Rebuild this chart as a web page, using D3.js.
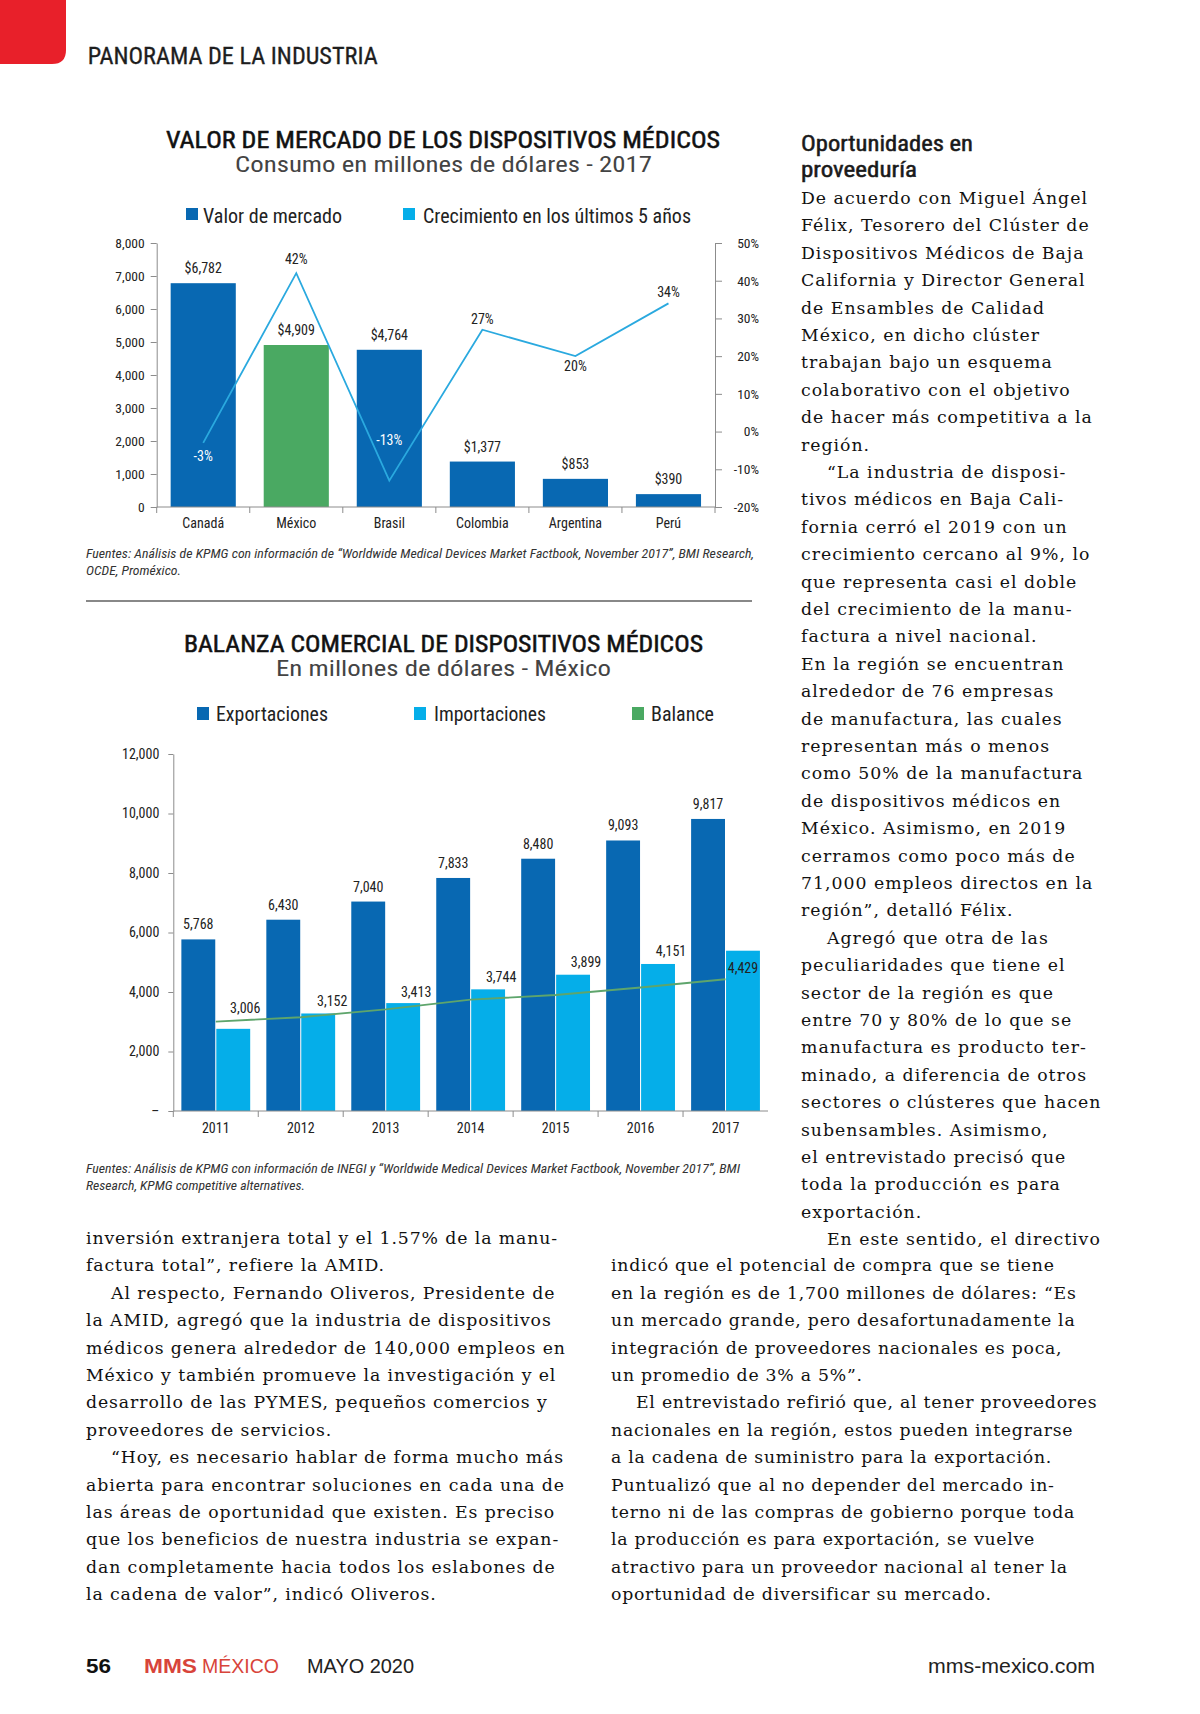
<!DOCTYPE html>
<html><head><meta charset="utf-8">
<script src="https://cdn.jsdelivr.net/npm/d3@7"></script>
<style>
html,body{margin:0;padding:0;background:#fff;}
svg text{font-family:"Liberation Sans Narrow","Roboto Condensed","Arial Narrow","Liberation Sans",sans-serif;}
svg text.serif{font-family:"DejaVu Serif","Liberation Serif",serif;}
svg text.plain{font-family:"Liberation Sans",Arial,sans-serif;}
</style></head><body>
<svg id="page" width="1200" height="1714"></svg>
<script>
// ---------------- DATA ----------------
const countries = ["Canadá","México","Brasil","Colombia","Argentina","Perú"];
const marketValue = [6782,4909,4764,1377,853,390];
const growth5y = [-3,42,-13,27,20,34];
const leftTicks1 = [0,1000,2000,3000,4000,5000,6000,7000,8000];
const rightTicks1 = [-20,-10,0,10,20,30,40,50];

const years = ["2011","2012","2013","2014","2015","2016","2017"];
const exportsVal = [5768,6430,7040,7833,8480,9093,9817];
const importsVal = [2762,3278,3627,4089,4581,4942,5388];
const balanceVal = [3006,3152,3413,3744,3899,4151,4429];
const ticks2 = [0,2000,4000,6000,8000,10000,12000];

const legend1 = ["Valor de mercado","Crecimiento en los últimos 5 años"];
const legend2 = ["Exportaciones","Importaciones","Balance"];

const colTopRight = [
"De acuerdo con Miguel Ángel","Félix, Tesorero del Clúster de","Dispositivos Médicos de Baja",
"California y Director General","de Ensambles de Calidad","México, en dicho clúster",
"trabajan bajo un esquema","colaborativo con el objetivo","de hacer más competitiva a la","región.",
">“La industria de disposi-","tivos médicos en Baja Cali-","fornia cerró el 2019 con un",
"crecimiento cercano al 9%, lo","que representa casi el doble","del crecimiento de la manu-",
"factura a nivel nacional.","En la región se encuentran","alrededor de 76 empresas",
"de manufactura, las cuales","representan más o menos","como 50% de la manufactura",
"de dispositivos médicos en","México. Asimismo, en 2019","cerramos como poco más de",
"71,000 empleos directos en la","región”, detalló Félix.",">Agregó que otra de las",
"peculiaridades que tiene el","sector de la región es que","entre 70 y 80% de lo que se",
"manufactura es producto ter-","minado, a diferencia de otros","sectores o clústeres que hacen",
"subensambles. Asimismo,","el entrevistado precisó que","toda la producción es para",
"exportación.",">En este sentido, el directivo"];
const colBottomLeft = [
"inversión extranjera total y el 1.57% de la manu-","factura total”, refiere la AMID.",
">Al respecto, Fernando Oliveros, Presidente de","la AMID, agregó que la industria de dispositivos",
"médicos genera alrededor de 140,000 empleos en","México y también promueve la investigación y el",
"desarrollo de las PYMES, pequeños comercios y","proveedores de servicios.",
">“Hoy, es necesario hablar de forma mucho más","abierta para encontrar soluciones en cada una de",
"las áreas de oportunidad que existen. Es preciso","que los beneficios de nuestra industria se expan-",
"dan completamente hacia todos los eslabones de","la cadena de valor”, indicó Oliveros."];
const colBottomRight = [
"indicó que el potencial de compra que se tiene","en la región es de 1,700 millones de dólares: “Es",
"un mercado grande, pero desafortunadamente la","integración de proveedores nacionales es poca,",
"un promedio de 3% a 5%”.",">El entrevistado refirió que, al tener proveedores",
"nacionales en la región, estos pueden integrarse","a la cadena de suministro para la exportación.",
"Puntualizó que al no depender del mercado in-","terno ni de las compras de gobierno porque toda",
"la producción es para exportación, se vuelve","atractivo para un proveedor nacional al tener la",
"oportunidad de diversificar su mercado."];

// ---------------- STYLE ----------------
const BLUE="#0868b2", LBLUE="#05aee9", GREEN="#4aa962", LINE1="#2aa9df", LINE2="#5ea56c", AX="#8c8c8c", TXT="#222";

const svg = d3.select("#page");

function label(g,x,y,s,o={}){
  const t=g.append("text").attr("x",x).attr("y",y).text(s)
    .attr("font-size",o.size||13).attr("fill",o.fill||TXT)
    .attr("text-anchor",o.anchor||"start");
  if(o.len){t.attr("textLength",o.len).attr("lengthAdjust","spacingAndGlyphs");}
  if(o.italic) t.attr("font-style","italic");
  if(o.weight) t.attr("font-weight",o.weight);
  if(o.stroke){t.attr("stroke",o.fill||TXT).attr("stroke-width",o.stroke);}
  if(o.cls) t.attr("class",o.cls);
  if(o.ls!==undefined) t.attr("letter-spacing",o.ls);
  return t;
}

// ---------------- HEADER ----------------
svg.append("path").attr("d","M0,0 H66 V50 Q66,64 52,64 H0 Z").attr("fill","#e8202a");
label(svg,87.7,64,"PANORAMA DE LA INDUSTRIA",{size:24,len:290,fill:"#1e1e1e",stroke:0.3});

// ---------------- CHART 1 ----------------
const g1 = svg.append("g");
label(g1,166,148,"VALOR DE MERCADO DE LOS DISPOSITIVOS MÉDICOS",{size:23.5,len:554,fill:"#111",stroke:0.5});
label(g1,235,172,"Consumo en millones de dólares - 2017",{size:22,len:417,fill:"#444"});
g1.append("rect").attr("x",186).attr("y",208).attr("width",12).attr("height",12).attr("fill",BLUE);
label(g1,203,223,legend1[0],{size:20,len:139});
g1.append("rect").attr("x",403).attr("y",208).attr("width",12).attr("height",12).attr("fill",LBLUE);
label(g1,423,223,legend1[1],{size:20,len:268});

const x1 = d3.scaleBand().domain(countries).range([156.7,715]).paddingInner(0.3).paddingOuter(0.15);
const y1 = d3.scaleLinear().domain([0,8000]).range([507,243]);
const y1r = d3.scaleLinear().domain([-20,50]).range([507,243]);

g1.selectAll("rect.bar").data(countries).enter().append("rect").attr("class","bar")
  .attr("x",d=>x1(d)).attr("width",x1.bandwidth())
  .attr("y",(d,i)=>y1(marketValue[i])).attr("height",(d,i)=>y1(0)-y1(marketValue[i]))
  .attr("fill",(d,i)=>i===1?GREEN:BLUE);

const ax1 = g1.append("g").attr("transform","translate(156.7,0)")
  .call(d3.axisLeft(y1).tickValues(leftTicks1).tickFormat(d3.format(",")).tickSize(6).tickPadding(6).tickSizeOuter(0));
const ax1r = g1.append("g").attr("transform","translate(715,0)")
  .call(d3.axisRight(y1r).tickValues(rightTicks1).tickFormat(d=>d+"%").tickSize(7).tickSizeOuter(0));
ax1r.selectAll("text").attr("x",44).attr("text-anchor","end");
[ax1,ax1r].forEach(a=>{a.select(".domain").attr("stroke",AX);a.selectAll(".tick line").attr("stroke",AX);
  a.selectAll("text").attr("font-size",13.5).attr("fill",TXT).attr("font-family",null);});
// x axis
g1.append("line").attr("x1",156.7).attr("x2",715).attr("y1",507).attr("y2",507).attr("stroke",AX);
d3.range(countries.length+1).forEach(i=>{
  const xx = x1.range()[0]+i*x1.step();
  g1.append("line").attr("x1",xx).attr("x2",xx).attr("y1",507).attr("y2",513).attr("stroke",AX);
});
g1.selectAll("text.xl").data(countries).enter().append("text").attr("class","xl")
  .attr("x",d=>x1(d)+x1.bandwidth()/2).attr("y",528).attr("text-anchor","middle")
  .attr("font-size",14).attr("fill",TXT).text(d=>d);
// value labels
g1.selectAll("text.vl").data(countries).enter().append("text").attr("class","vl")
  .attr("x",d=>x1(d)+x1.bandwidth()/2).attr("y",(d,i)=>y1(marketValue[i])-10)
  .attr("text-anchor","middle").attr("font-size",14).attr("fill",TXT)
  .text((d,i)=>"$"+d3.format(",")(marketValue[i]));
// growth line
const cx1 = d=>x1(d)+x1.bandwidth()/2;
g1.append("path").attr("fill","none").attr("stroke",LINE1).attr("stroke-width",1.8)
  .attr("d",d3.line().x((d,i)=>cx1(countries[i])).y(d=>y1r(d))(growth5y));
const gLabDy=[18,-9,-36,-6,15,-6];
g1.selectAll("text.gl").data(countries).enter().append("text").attr("class","gl")
  .attr("x",d=>cx1(d)).attr("y",(d,i)=>y1r(growth5y[i])+gLabDy[i])
  .attr("text-anchor","middle").attr("font-size",14)
  .attr("fill",(d,i)=>growth5y[i]<0?"#fff":TXT).text((d,i)=>growth5y[i]+"%");

label(svg,86,558,"Fuentes: Análisis de KPMG con información de “Worldwide Medical Devices Market Factbook, November 2017”, BMI Research,",{size:12.5,len:668,italic:true,fill:"#333"});
label(svg,86,575,"OCDE, Proméxico.",{size:12.5,len:95,italic:true,fill:"#333"});
svg.append("line").attr("x1",86).attr("x2",752).attr("y1",601).attr("y2",601).attr("stroke","#888").attr("stroke-width",2);

// ---------------- CHART 2 ----------------
const g2 = svg.append("g");
label(g2,184,652,"BALANZA COMERCIAL DE DISPOSITIVOS MÉDICOS",{size:23.5,len:519,fill:"#111",stroke:0.5});
label(g2,276,676,"En millones de dólares - México",{size:22,len:335,fill:"#444"});
const leg2x=[[197,216,112],[414,434,112],[632,651,63]], leg2c=[BLUE,LBLUE,GREEN];
legend2.forEach((s,i)=>{
  g2.append("rect").attr("x",leg2x[i][0]).attr("y",707).attr("width",12).attr("height",13).attr("fill",leg2c[i]);
  label(g2,leg2x[i][1],721,s,{size:20,len:leg2x[i][2]});
});
const x2 = d3.scaleBand().domain(years).range([173.3,768]).paddingInner(0.19).paddingOuter(0.095);
const xs2 = d3.scaleBand().domain(["exp","imp"]).range([0,x2.bandwidth()]).paddingInner(0.03);
const y2 = d3.scaleLinear().domain([0,12000]).range([1111,754]);

const grp = g2.selectAll("g.yr").data(years).enter().append("g").attr("class","yr")
  .attr("transform",d=>`translate(${x2(d)},0)`);
grp.append("rect").attr("x",xs2("exp")).attr("width",xs2.bandwidth())
  .attr("y",(d,i)=>y2(exportsVal[i])).attr("height",(d,i)=>y2(0)-y2(exportsVal[i])).attr("fill",BLUE);
grp.append("rect").attr("x",xs2("imp")).attr("width",xs2.bandwidth())
  .attr("y",(d,i)=>y2(importsVal[i])).attr("height",(d,i)=>y2(0)-y2(importsVal[i])).attr("fill",LBLUE);
grp.append("text").attr("x",xs2("exp")+xs2.bandwidth()/2).attr("y",(d,i)=>y2(exportsVal[i])-10)
  .attr("text-anchor","middle").attr("font-size",14).attr("fill",TXT).text((d,i)=>d3.format(",")(exportsVal[i]));
const bDx=[12,14,13,13,13,13,0], bDy=[-16,-7,-6,-7,-8,-8,22];
grp.append("text").attr("x",(d,i)=>xs2("imp")+xs2.bandwidth()/2+bDx[i]).attr("y",(d,i)=>y2(importsVal[i])+bDy[i])
  .attr("text-anchor","middle").attr("font-size",14).attr("fill",TXT).text((d,i)=>d3.format(",")(balanceVal[i]));

g2.append("path").attr("fill","none").attr("stroke",LINE2).attr("stroke-width",1.8)
  .attr("d",d3.line().x((d,i)=>x2(years[i])+x2.bandwidth()/2).y(d=>y2(d))(balanceVal));

const ax2 = g2.append("g").attr("transform","translate(173.3,0)")
  .call(d3.axisLeft(y2).tickValues(ticks2).tickFormat(d=>d===0?"–":d3.format(",")(d)).tickSize(5).tickPadding(9).tickSizeOuter(0));
ax2.select(".domain").attr("stroke",AX);
ax2.selectAll(".tick line").attr("stroke",AX);
ax2.selectAll("text").attr("font-size",14).attr("fill",TXT).attr("font-family",null);
g2.append("line").attr("x1",173.3).attr("x2",768).attr("y1",1111).attr("y2",1111).attr("stroke",AX);
d3.range(years.length).forEach(i=>{
  const xx = x2.range()[0]+i*x2.step();
  g2.append("line").attr("x1",xx).attr("x2",xx).attr("y1",1111).attr("y2",1117).attr("stroke",AX);
});
g2.selectAll("text.xl").data(years).enter().append("text").attr("class","xl")
  .attr("x",d=>x2(d)+x2.bandwidth()/2).attr("y",1133).attr("text-anchor","middle")
  .attr("font-size",14).attr("fill",TXT).text(d=>d);

label(svg,86,1173,"Fuentes: Análisis de KPMG con información de INEGI y “Worldwide Medical Devices Market Factbook, November 2017”, BMI",{size:12.5,len:654,italic:true,fill:"#333"});
label(svg,86,1190,"Research, KPMG competitive alternatives.",{size:12.5,len:219,italic:true,fill:"#333"});

// ---------------- TEXT COLUMNS ----------------
label(svg,801,150.7,"Oportunidades en",{size:22,len:172,fill:"#1a1a1a",stroke:0.5});
label(svg,801,177.3,"proveeduría",{size:22,len:116,fill:"#1a1a1a",stroke:0.5});
function column(lines,x,y0,indent,ls){
  lines.forEach((s,i)=>{
    const ind = s.startsWith(">");
    label(svg,x+(ind?indent:0),y0+i*27.4,ind?s.slice(1):s,{size:17.3,cls:"serif",ls:ls,fill:"#111"});
  });
}
column(colTopRight,801,204,26,1.0);
column(colBottomLeft,86,1244,25,0.9);
column(colBottomRight,611,1271.4,25,0.75);

// ---------------- FOOTER ----------------
label(svg,86,1673,"56",{size:20,len:25,weight:"bold",cls:"plain",fill:"#111"});
label(svg,144,1673,"MMS",{size:20,len:53,weight:"bold",cls:"plain",fill:"#d8443a"});
label(svg,202,1673,"MÉXICO",{size:20,len:77,cls:"plain",fill:"#d8443a"});
label(svg,307,1673,"MAYO 2020",{size:20,len:107,cls:"plain",fill:"#222"});
label(svg,928,1673,"mms-mexico.com",{size:20,len:167,cls:"plain",fill:"#222"});
</script></body></html>
